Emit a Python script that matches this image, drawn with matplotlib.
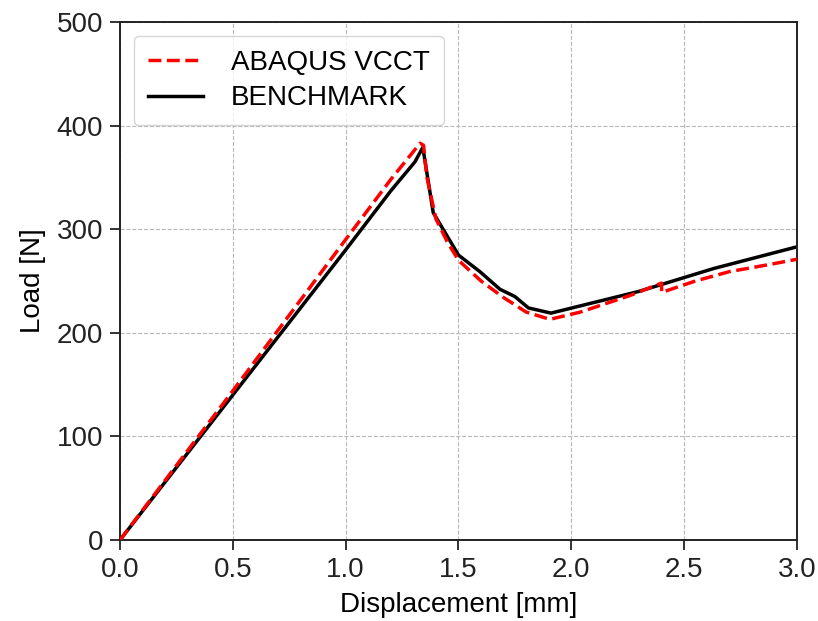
import numpy as np
import matplotlib.pyplot as plt

plt.rcParams['font.family'] = ['Liberation Sans', 'DejaVu Sans']

# ABAQUS VCCT (displacement mm, load N)
vcct_x = [0.0, 0.5, 1.0, 1.2, 1.33, 1.345, 1.36, 1.40, 1.45, 1.50, 1.60, 1.70, 1.80, 1.905, 2.04, 2.26, 2.40, 2.40, 2.55, 2.70, 2.88, 3.0]
vcct_y = [0.0, 144, 290, 348, 383, 381, 350, 310, 288, 270, 250, 234, 220, 213, 220, 236, 248, 239, 250, 259, 266, 271]

# BENCHMARK
bench_x = [0.0, 0.5, 1.0, 1.2, 1.307, 1.342, 1.388, 1.50, 1.595, 1.684, 1.75, 1.81, 1.91, 2.3, 2.63, 3.0]
bench_y = [0.0, 140, 280, 337, 365, 379, 316, 275, 259, 242, 235, 224, 219, 240, 262, 283]

fig = plt.figure(figsize=(8.18, 6.21), dpi=100)
ax = fig.add_axes([0.1467, 0.1304, 0.8276, 0.8342])

ax.plot(vcct_x, vcct_y, 'r--', lw=2.5, label='ABAQUS VCCT', zorder=3)
ax.plot(bench_x, bench_y, 'k-', lw=2.5, label='BENCHMARK', zorder=2)

ax.set_xlim(0, 3.0)
ax.set_ylim(0, 500)
ax.set_xticks(np.arange(0, 3.01, 0.5))
ax.set_yticks(np.arange(0, 501, 100))
ax.grid(True, linestyle='--', color='#b8b8b8', lw=0.8)
ax.set_axisbelow(True)
ax.tick_params(labelsize=20, width=1.3, length=7, pad=5, colors='#222222')
for s in ax.spines.values():
    s.set_linewidth(1.4)
    s.set_color('#222222')
ax.set_xlabel('Displacement [mm]', fontsize=20, labelpad=7)
ax.set_ylabel('Load [N]', fontsize=20, labelpad=8)
ax.legend(loc='upper left', fontsize=20, handlelength=2.0, borderpad=0.5,
          labelspacing=0.35, handletextpad=1.0)

fig.savefig('out.png', dpi=100)
